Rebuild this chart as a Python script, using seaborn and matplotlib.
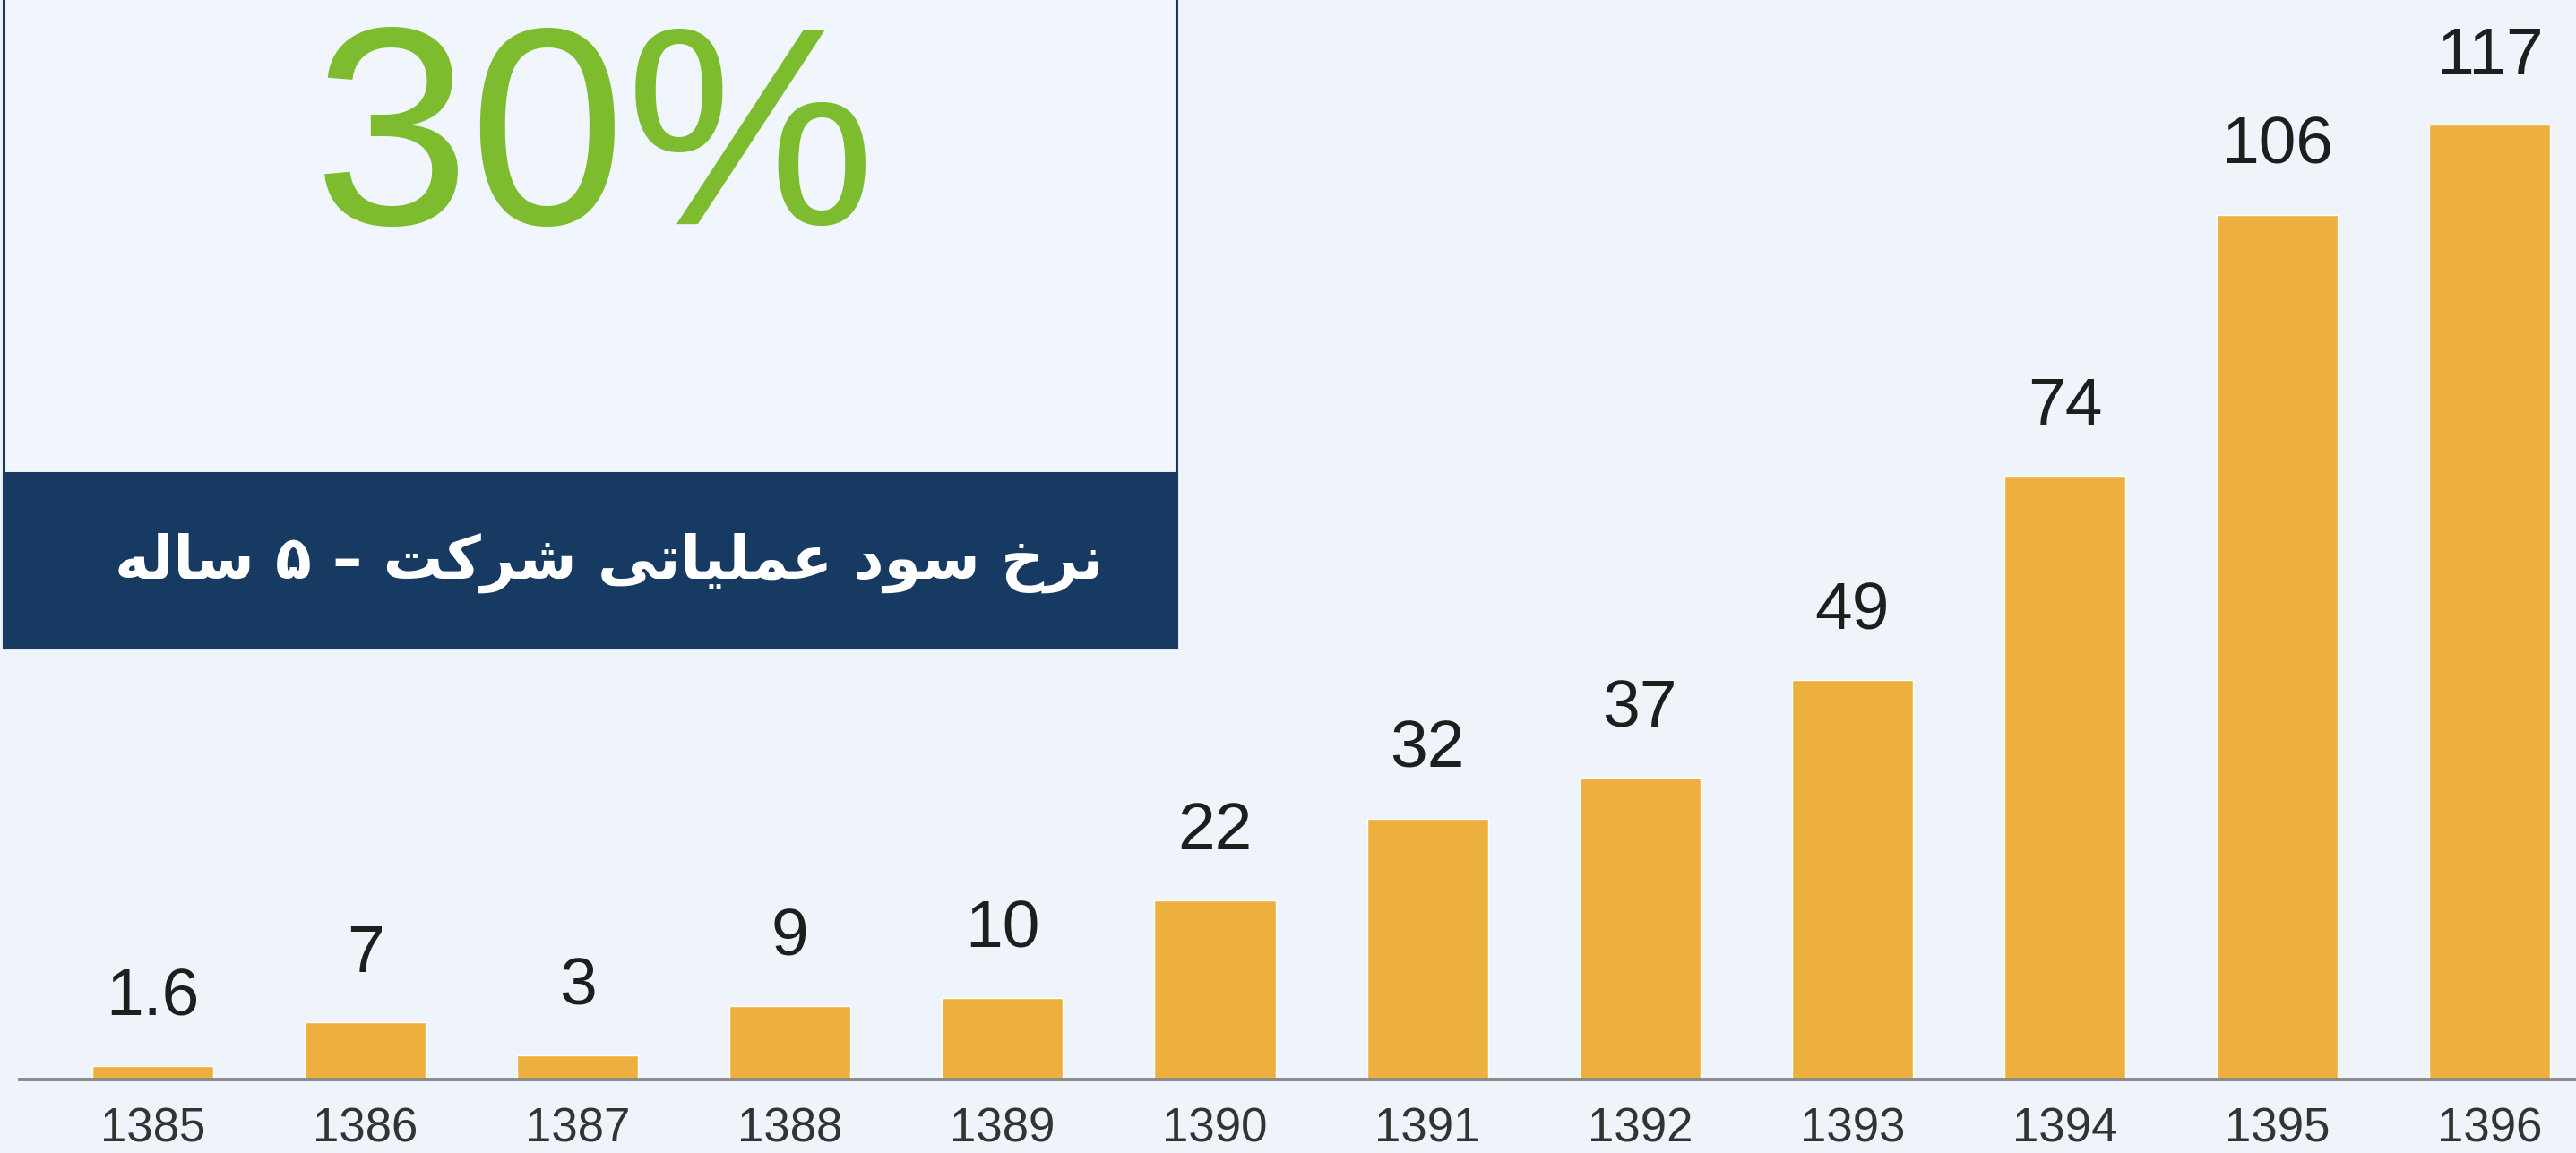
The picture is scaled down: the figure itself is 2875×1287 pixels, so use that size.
import matplotlib
matplotlib.use("Agg")
import matplotlib.pyplot as plt
import matplotlib.patches as patches
import seaborn as sns

# data
years = ['1385', '1386', '1387', '1388', '1389', '1390',
         '1391', '1392', '1393', '1394', '1395', '1396']
values = [1.6, 7, 3, 9, 10, 22, 32, 37, 49, 74, 106, 117]
value_labels = ['1.6', '7', '3', '9', '10', '22', '32', '37', '49', '74', '106', '117']
big_number = '30%'
banner_text = 'نرخ سود عملیاتی شرکت – ۵ ساله'

BG = '#eff3fa'
BAR = '#edb03f'
NAVY = '#163a62'
GREEN = '#7dbb2f'

# matplotlib has no arabic shaping, so pick the contextual forms by hand
FORMS = {
    'ا': ('\uFE8D', '\uFE8E', None, None),
    'ت': ('\uFE95', '\uFE96', '\uFE97', '\uFE98'),
    'خ': ('\uFEA5', '\uFEA6', '\uFEA7', '\uFEA8'),
    'د': ('\uFEA9', '\uFEAA', None, None),
    'ر': ('\uFEAD', '\uFEAE', None, None),
    'س': ('\uFEB1', '\uFEB2', '\uFEB3', '\uFEB4'),
    'ش': ('\uFEB5', '\uFEB6', '\uFEB7', '\uFEB8'),
    'ع': ('\uFEC9', '\uFECA', '\uFECB', '\uFECC'),
    'ک': ('\uFB8E', '\uFB8F', '\uFB90', '\uFB91'),
    'ل': ('\uFEDD', '\uFEDE', '\uFEDF', '\uFEE0'),
    'م': ('\uFEE1', '\uFEE2', '\uFEE3', '\uFEE4'),
    'ن': ('\uFEE5', '\uFEE6', '\uFEE7', '\uFEE8'),
    'ه': ('\uFEE9', '\uFEEA', '\uFEEB', '\uFEEC'),
    'و': ('\uFEED', '\uFEEE', None, None),
    'ی': ('\uFBFC', '\uFBFD', '\uFBFE', '\uFBFF'),
}


def shape(text):
    out = []
    for i, ch in enumerate(text):
        if ch not in FORMS:
            out.append(ch)
            continue
        prev = text[i - 1] if i > 0 else ''
        nxt = text[i + 1] if i + 1 < len(text) else ''
        join_prev = prev in FORMS and FORMS[prev][2] is not None
        join_next = nxt in FORMS and FORMS[ch][2] is not None
        iso, fin, ini, med = FORMS[ch]
        if join_prev and join_next:
            out.append(med)
        elif join_prev:
            out.append(fin)
        elif join_next:
            out.append(ini)
        else:
            out.append(iso)
    return ''.join(out)[::-1]


sns.set_style('white')
plt.rcParams['font.family'] = ['Liberation Sans', 'DejaVu Sans']

W, H = 2875, 1287
fig = plt.figure(figsize=(W / 100, H / 100), dpi=100, facecolor=BG)
ax = fig.add_axes([22 / W, 82 / H, 1 - 22 / W, 1 - 82 / H])
ax.set_facecolor(BG)

sns.barplot(x=years, y=values, color=BAR, width=0.57, saturation=1, ax=ax)
ax.bar_label(ax.containers[0], labels=value_labels, padding=30,
             fontsize=54, color='#1e1e1e')

ax.set_xlim(-0.626, 11.406)
ax.set_ylim(0, 132.3)
ax.set_xlabel('')
ax.set_ylabel('')
ax.set_yticks([])
ax.tick_params(axis='x', length=0, pad=22, labelsize=38, labelcolor='#333333')
sns.despine(ax=ax, left=True)
ax.spines['bottom'].set_color('#8a8a8a')
ax.spines['bottom'].set_linewidth(2.8)

# box with the headline number
fig.patches.append(patches.Rectangle((4 / W, 1 - 722 / H), 1309 / W, 740 / H,
                                     transform=fig.transFigure, facecolor='#f1f5fc',
                                     edgecolor=NAVY, linewidth=2.2, zorder=3))
fig.patches.append(patches.Rectangle((4 / W, 1 - 722 / H), 1309 / W, 194 / H,
                                     transform=fig.transFigure, facecolor=NAVY,
                                     edgecolor=NAVY, linewidth=2.2, zorder=4))
fig.text(664 / W, 1 - 250 / H, big_number, color=GREEN, fontsize=226,
         ha='center', va='baseline', zorder=5)
fig.text(680 / W, 1 - 628 / H, shape(banner_text), color='white', fontsize=48,
         fontweight='bold', family=['DejaVu Sans'], ha='center', va='center', zorder=5)

fig.savefig('out.png', dpi=100, facecolor=BG)
